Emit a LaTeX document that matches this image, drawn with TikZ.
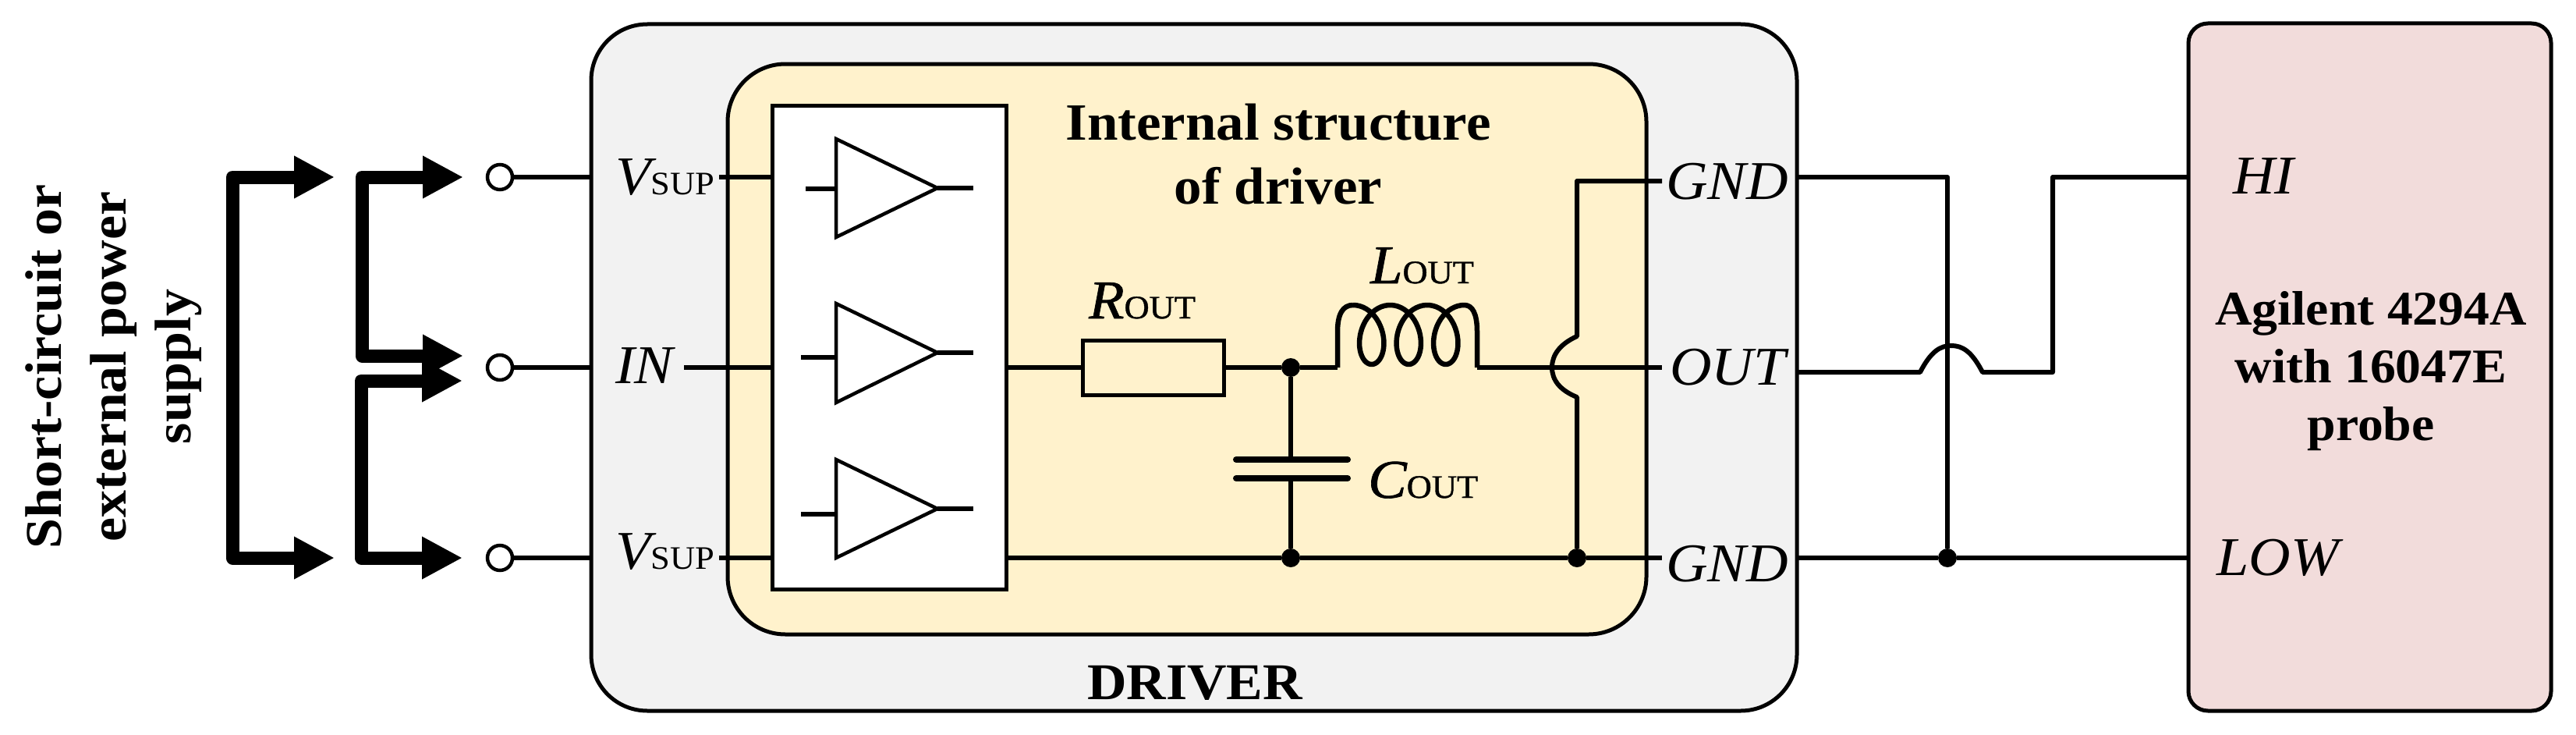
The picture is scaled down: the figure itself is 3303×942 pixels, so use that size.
\documentclass[tikz,border=0pt]{standalone}
\usepackage{fontspec}
\setmainfont{Liberation Serif}[FakeStretch=1.06]
\newfontfamily\heavy{Liberation Serif}[FakeStretch=1.06,FakeBold=1]
\usetikzlibrary{arrows.meta}
\definecolor{boxgrey}{HTML}{F2F2F2}
\definecolor{boxyellow}{HTML}{FFF2CC}
\definecolor{boxpink}{HTML}{F2DCDB}
\newcommand{\sublab}[2]{{\itshape #1}{\fontsize{42}{42}\selectfont #2}}
\tikzset{
  wire/.style={line width=6pt, line join=round},
  box/.style={draw, line width=5pt, inner sep=0pt, outer sep=0pt},
  bus/.style={line width=17pt, line join=round, {Triangle[length=52pt,width=51pt]}-{Triangle[length=52pt,width=51pt]}},
  term/.style={circle, draw, fill=white, line width=4.5pt, minimum size=32pt, inner sep=0pt},
  dot/.style={circle, fill=black, minimum size=24pt, inner sep=0pt},
  lab/.style={font=\fontsize{70}{70}\selectfont, inner sep=0pt, anchor=base west},
  head/.style={font=\fontsize{67}{82}\selectfont\bfseries, inner sep=0pt, align=center},
  amp/.style={line width=4.5pt, line join=miter},
}
\begin{document}
\begin{tikzpicture}[x=1pt,y=-1pt]
\useasboundingbox (0,0) rectangle (3303,942);

% boxes
\node[box, fill=boxgrey, rounded corners=72pt, minimum width=1546pt, minimum height=880pt] (drv) at (1531,471) {};
\node[box, fill=boxyellow, rounded corners=74pt, minimum width=1178pt, minimum height=731pt] (int) at (1522,447.5) {};
\node[box, fill=white, minimum width=300pt, minimum height=620pt] (blk) at (1140,445) {};
\node[box, fill=boxpink, rounded corners=25pt, minimum width=465pt, minimum height=881pt] (meas) at (3038.5,470.5) {};

% heading texts
\node[head, font=\fontsize{66}{83}\selectfont\bfseries, rotate=90] (src) at (146,470) {Short-circuit or\\external power\\supply};
\node[head] (inttxt) at (1639,198) {Internal structure\\of driver};
\node[lab, font=\fontsize{66}{66}\selectfont\bfseries, anchor=base] (drvtxt) at (1532,896) {DRIVER};
\node[head, font=\fontsize{62}{74}\selectfont\bfseries] (meastxt) at (3040,476) {Agilent 4294A\\with 16047E\\probe};

% terminals
\node[term] (c1) at (641,227) {};
\node[term] (c2) at (641,471) {};
\node[term] (c3) at (641,715) {};

% pin labels
\node[lab] (vs1) at (789,249) {\sublab{V}{SUP}};
\node[lab] (in) at (789,491) {\itshape IN};
\node[lab] (vs2) at (789,729) {\sublab{V}{SUP}};
\node[lab] (gnd1) at (2136,255) {\itshape GND};
\node[lab] (out) at (2141,493) {\itshape OUT};
\node[lab] (gnd2) at (2136,745) {\itshape GND};
\node[lab] (hi) at (2863,248) {\itshape HI};
\node[lab] (low) at (2842,737) {\itshape LOW};
\node[lab] (rl) at (1396,408) {\heavy\sublab{R}{OUT}};
\node[lab] (ll) at (1757,363) {\heavy\sublab{L}{OUT}};
\node[lab] (cl) at (1754,638) {\heavy\sublab{C}{OUT}};

% bus arrows
\coordinate (t1) at (429,227);
\coordinate (t1b) at (429,715);
\coordinate (t2) at (594,227);
\coordinate (t2b) at (594,456);
\coordinate (t3) at (593,488);
\coordinate (t3b) at (593,715);
\draw[bus] (t1) -- ++(-131,0) |- (t1b);
\draw[bus] (t2) -- ++(-130,0) |- (t2b);
\draw[bus] (t3) -- ++(-130,0) |- (t3b);

% input wires
\coordinate (p1) at (922,227);
\coordinate (p2) at (877,471);
\coordinate (p3) at (922,715);
\draw[wire] (c1) -- (c1 -| drv.west);
\draw[wire] (c2) -- (c2 -| drv.west);
\draw[wire] (c3) -- (c3 -| drv.west);
\draw[wire] (p1) -- (p1 -| blk.west);
\draw[wire] (p2) -- (p2 -| blk.west);
\draw[wire] (p3) -- (p3 -| blk.west);

% amplifiers
\draw[amp] (1072,178) -- (1202,241) -- (1072,304) -- cycle;
\draw[amp] (1072,389) -- (1202,452) -- (1072,516) -- cycle;
\draw[amp] (1072,589) -- (1202,652) -- (1072,715) -- cycle;
\draw[wire] (1033,242) -- (1072,242);
\draw[wire] (1027,458) -- (1072,458);
\draw[wire] (1027,659) -- (1072,659);
\draw[wire] (1202,241) -- (1248,241);
\draw[wire] (1202,452) -- (1248,452);
\draw[wire] (1202,652) -- (1248,652);

% output network
\node[box, fill=boxyellow, minimum width=181pt, minimum height=70pt] (r) at (1478.5,471) {};
\node[dot] (j1) at (1655,471) {};
\node[dot] (j2) at (1655,715) {};
\node[dot] (j3) at (2022,715) {};
\coordinate (l1) at (1715,471);
\coordinate (l2) at (1894,471);
\coordinate (g1) at (2131,232);
\coordinate (o1) at (2131,471);
\coordinate (g2) at (2131,715);
\draw[wire] (blk.east |- r) -- (r.west);
\draw[wire] (r.east) -- (j1) -- (l1);
\draw[wire, line width=6.5pt] (l1) -- (1715,425) .. controls (1715,402) and (1722,391) .. (1735,391)
  plot[domain=0:1080, samples=150] ({1735+7.56*rad(\x)+26.5*sin(\x)},{429-38*cos(\x)})
  .. controls (1888,391) and (1894,402) .. (1894,425) -- (l2);
\draw[wire] (l2) -- (o1);
\draw[wire] (blk.east |- j2) -- (j2) -- (j3) -- (g2);
\draw[wire] (j1) -- (1655,589);
\draw[wire] (1655,613) -- (j2);
\draw[line width=8pt, line cap=round] (1585,589) -- (1728,589);
\draw[line width=8pt, line cap=round] (1585,613) -- (1728,613);
\draw[wire] (g1) -- (2022,232) -- (2022,431)
  .. controls (2000,441) and (1990,455) .. (1990,471)
  .. controls (1990,487) and (2000,500) .. (2022,509) -- (j3);

% measurement wiring
\node[dot] (j4) at (2497,715) {};
\coordinate (a1) at (2497,227);
\coordinate (a2) at (2632,227);
\coordinate (a3) at (2632,477);
\draw[wire] (drv.east |- a1) -- (a1) -- (j4);
\draw[wire] (drv.east |- j4) -- (j4) -- (meas.west |- j4);
\draw[wire] (drv.east |- a3) -- (2462,477)
  .. controls (2476,450) and (2488,443) .. (2502,443)
  .. controls (2516,443) and (2528,450) .. (2542,477) -- (a3) -- (a2) -- (meas.west |- a2);
\end{tikzpicture}
\end{document}
